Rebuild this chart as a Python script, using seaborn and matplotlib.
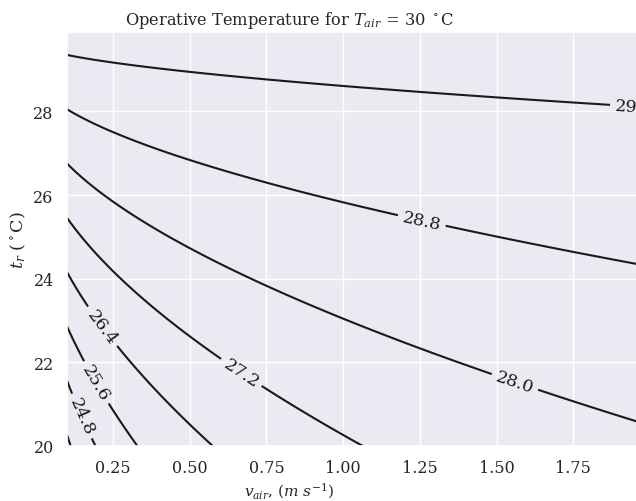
import numpy as np
import seaborn as sns
import matplotlib.pyplot as plt

# air temperature and heat transfer coefficients (h_c = HC_COEF * v**HC_EXP)
T_AIR = 30.0
HC_COEF = 8.3
HC_EXP = 0.6
HR = 3.35

# grid of air speed (m/s) and mean radiant temperature (degC)
air_speed = np.arange(0.1, 2.0, 0.01)
radiant_temp = np.arange(20.0, 30.0, 0.1)

levels = [24.0, 24.8, 25.6, 26.4, 27.2, 28.0, 28.8, 29.6]

V, TR = np.meshgrid(air_speed, radiant_temp)
hc = HC_COEF * V ** HC_EXP
t_op = (HR * TR + hc * T_AIR) / (HR + hc)

sns.set_theme(style="darkgrid", font="serif", font_scale=1.05)
plt.rcParams["mathtext.fontset"] = "dejavuserif"

fig = plt.figure(figsize=(6.36, 5.02), dpi=100)
ax = fig.add_axes([0.1053, 0.1096, 0.912, 0.8247])

cs = ax.contour(V, TR, t_op, levels=levels, colors="k")
# where the labels sit on each line
label_spots = [(0.15, 20.72), (0.20, 21.54), (0.23, 22.94), (0.67, 21.78),
               (1.56, 21.54), (1.26, 25.52), (1.95, 28.25)]
ax.clabel(cs, fmt="%.1f", manual=label_spots)

ax.set_title(r"Operative Temperature for $T_{air}$ = 30 $^\circ$C",
             x=0.3835, fontsize=11.7)
ax.set_xlabel(r"$v_{air}$, ($m\ s^{-1}$)", x=0.3835, fontsize=11, labelpad=3)
ax.set_ylabel(r"$t_r$ ($^\circ$C)")

fig.savefig("out.png", dpi=100)
